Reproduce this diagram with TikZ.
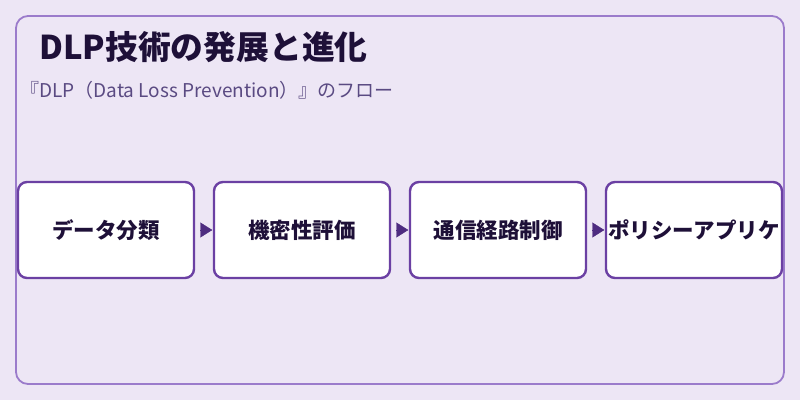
\documentclass[tikz,border=0pt]{standalone}
\usepackage{fontspec}
\setmainfont{Noto Sans CJK JP}
\newfontfamily\jpfont{Noto Sans CJK JP}
\usepackage{xcolor}
\usepackage{tikz}
\usetikzlibrary{positioning,arrows.meta}

\definecolor{bgpurple}{HTML}{EDE6F5}
\definecolor{framepurple}{HTML}{9B7BCB}
\definecolor{boxpurple}{HTML}{6B40A3}
\definecolor{arrowpurple}{HTML}{4E2C80}
\definecolor{titleink}{HTML}{1E1038}
\definecolor{subink}{HTML}{5A4A82}

\begin{document}
\begin{tikzpicture}[
    x=1pt, y=-1pt, % 1px = 1pt, y nach unten
    stepbox/.style={
        draw=boxpurple, line width=2.4pt, fill=white,
        rounded corners=9pt,
        minimum width=176pt, minimum height=96pt,
        font=\jpfont\bfseries\fontsize{21.5}{24}\selectfont,
        text=titleink, inner sep=0pt,
        anchor=center
    },
    flow/.style={
        -{Triangle[length=12pt,width=15pt]}, line width=0.4pt,
        arrowpurple, shorten <=5pt, shorten >=0.5pt
    },
    heading/.style={
        font=\jpfont\bfseries\fontsize{32.8}{36}\selectfont,
        text=titleink, anchor=west, inner sep=0pt
    },
    subheading/.style={
        font=\jpfont\fontsize{19}{22}\selectfont,
        text=subink, anchor=west, inner sep=0pt
    }
    ]
    % Hintergrund
    \fill[bgpurple] (0,0) rectangle (800,400);
    \useasboundingbox (0,0) rectangle (800,400);
    \draw[framepurple, line width=1.8pt, rounded corners=12pt] (16,16) rectangle (784,384);

    % Titel
    \node[heading] (title) at (39,47) {DLP技術の発展と進化};
    \node[subheading] (subtitle) at (20,90) {『DLP（Data Loss Prevention）』のフロー};

    % Schritte
    \node[stepbox] (s1) at (106,230) {データ分類};
    \node[stepbox] (s2) at (302,230) {機密性評価};
    \node[stepbox] (s3) at (498,230) {通信経路制御};
    \node[stepbox] (s4) at (694,230) {ポリシーアプリケ};

    % Pfeile
    \draw[flow] (s1) -- (s2);
    \draw[flow] (s2) -- (s3);
    \draw[flow] (s3) -- (s4);

\end{tikzpicture}
\end{document}
